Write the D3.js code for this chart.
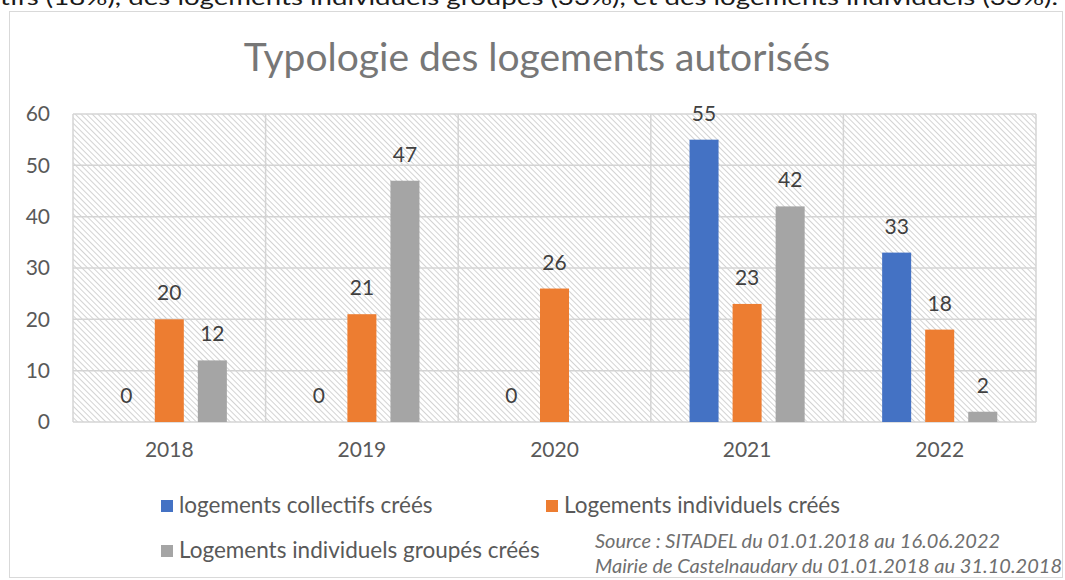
<!DOCTYPE html>
<html>
<head>
<meta charset="utf-8">
<script src="https://cdn.jsdelivr.net/npm/d3@7"></script>
<style>
  body { margin: 0; background: #fff; }
  svg text { font-family: Lato, "Open Sans", sans-serif; }
</style>
</head>
<body>
<div id="chart"></div>
<script>
// data
var years = ["2018", "2019", "2020", "2021", "2022"];
var seriesNames = ["logements collectifs créés", "Logements individuels créés", "Logements individuels groupés créés"];
var collectifs = [0, 0, 0, 55, 33];
var individuels = [20, 21, 26, 23, 18];
var groupes = [12, 47, null, 42, 2];
var yTicks = [0, 10, 20, 30, 40, 50, 60];
var colors = ["#4472C4", "#ED7D31", "#A5A5A5"];

var W = 1065, H = 580;
var plot = { left: 73, right: 1036, top: 114, bottom: 422 };

var svg = d3.select("#chart").append("svg")
    .attr("width", W)
    .attr("height", H);

// hatch pattern of the plot area
var defs = svg.append("defs");
defs.append("pattern")
    .attr("id", "hatch")
    .attr("patternUnits", "userSpaceOnUse")
    .attr("width", 4)
    .attr("height", 4)
    .attr("patternTransform", "rotate(-45)")
  .append("line")
    .attr("x1", 0.5).attr("y1", 0)
    .attr("x2", 0.5).attr("y2", 4)
    .attr("stroke", "#d3d3d3")
    .attr("stroke-width", 1);

// cut-off sentence above the chart (clipped in the original screenshot too)
svg.append("text")
    .attr("x", 0)
    .attr("y", 5)
    .attr("font-size", 22)
    .attr("fill", "#1a1a1a")
    .attr("textLength", 1058)
    .attr("lengthAdjust", "spacingAndGlyphs")
    .text("tifs (18%), des logements individuels groupés (33%), et des logements individuels (33%).");

// chart frame
svg.append("rect")
    .attr("x", 9.5).attr("y", 11.5)
    .attr("width", 1053).attr("height", 566)
    .attr("fill", "#fff")
    .attr("stroke", "#d9d9d9");

// title
svg.append("text")
    .attr("x", 537)
    .attr("y", 71)
    .attr("text-anchor", "middle")
    .attr("font-size", 39)
    .attr("fill", "#777")
    .text("Typologie des logements autorisés");

// scales
var x0 = d3.scaleBand()
    .domain(years)
    .range([plot.left, plot.right]);

var x1 = d3.scaleBand()
    .domain([0, 1, 2])
    .range([0, x0.bandwidth()])
    .paddingInner(0.326)
    .paddingOuter(0.9);

var y = d3.scaleLinear()
    .domain([0, 60])
    .range([plot.bottom, plot.top]);

// plot area background
svg.append("rect")
    .attr("x", plot.left).attr("y", plot.top)
    .attr("width", plot.right - plot.left)
    .attr("height", plot.bottom - plot.top)
    .attr("fill", "url(#hatch)");

// horizontal gridlines
svg.append("g")
    .selectAll("line")
    .data(yTicks)
    .join("line")
      .attr("x1", plot.left).attr("x2", plot.right)
      .attr("y1", function(d) { return y(d); })
      .attr("y2", function(d) { return y(d); })
      .attr("stroke", "#d4d4d4")
      .attr("stroke-width", 1.5);

// vertical category separators
var seps = d3.range(years.length + 1).map(function(i) { return plot.left + i * x0.step(); });
svg.append("g")
    .selectAll("line")
    .data(seps)
    .join("line")
      .attr("x1", function(d) { return d; }).attr("x2", function(d) { return d; })
      .attr("y1", plot.top).attr("y2", plot.bottom)
      .attr("stroke", "#d4d4d4")
      .attr("stroke-width", 1.5);

// y axis
var y_axis = d3.axisLeft(y).tickValues(yTicks).tickSize(0).tickPadding(23);
var gy = svg.append("g")
    .attr("transform", "translate(" + plot.left + ",0)")
    .call(y_axis);
gy.select(".domain").remove();
gy.selectAll("text")
    .attr("font-size", 21)
    .attr("fill", "#595959")
    .attr("font-family", "Lato, sans-serif");

// x axis
var x_axis = d3.axisBottom(x0).tickSize(0).tickPadding(20);
var gx = svg.append("g")
    .attr("transform", "translate(0," + plot.bottom + ")")
    .call(x_axis);
gx.select(".domain").remove();
gx.selectAll("text")
    .attr("font-size", 21)
    .attr("fill", "#595959")
    .attr("font-family", "Lato, sans-serif");

// bars
var series = [collectifs, individuels, groupes];
var rows = [];
series.forEach(function(vals, s) {
    vals.forEach(function(v, i) {
        if (v !== null) rows.push({ year: years[i], s: s, v: v });
    });
});

svg.append("g")
    .selectAll("rect")
    .data(rows.filter(function(d) { return d.v > 0; }))
    .join("rect")
      .attr("x", function(d) { return x0(d.year) + x1(d.s); })
      .attr("y", function(d) { return y(d.v); })
      .attr("width", x1.bandwidth())
      .attr("height", function(d) { return y(0) - y(d.v); })
      .attr("fill", function(d) { return colors[d.s]; });

// value labels
svg.append("g")
    .selectAll("text")
    .data(rows)
    .join("text")
      .attr("x", function(d) { return x0(d.year) + x1(d.s) + x1.bandwidth() / 2; })
      .attr("y", function(d) { return y(d.v) - 19; })
      .attr("text-anchor", "middle")
      .attr("font-size", 21)
      .attr("fill", "#404040")
      .text(function(d) { return d.v; });

// legend
var legendPos = [
    { x: 161, y: 513 },
    { x: 546, y: 513 },
    { x: 161, y: 558 }
];
var lg = svg.append("g")
    .selectAll("g")
    .data(seriesNames)
    .join("g")
      .attr("transform", function(d, i) { return "translate(" + legendPos[i].x + "," + legendPos[i].y + ")"; });

lg.append("rect")
    .attr("x", 0).attr("y", -13)
    .attr("width", 12).attr("height", 12)
    .attr("fill", function(d, i) { return colors[i]; });

lg.append("text")
    .attr("x", 18)
    .attr("y", 0)
    .attr("font-size", 22.5)
    .attr("fill", "#595959")
    .text(function(d) { return d; });

// source note
svg.append("text")
    .attr("x", 595).attr("y", 548)
    .attr("font-size", 20)
    .attr("font-style", "italic")
    .attr("fill", "#6f6f6f")
    .text("Source : SITADEL du 01.01.2018 au 16.06.2022");

svg.append("text")
    .attr("x", 595).attr("y", 573)
    .attr("font-size", 20)
    .attr("font-style", "italic")
    .attr("fill", "#6f6f6f")
    .text("Mairie de Castelnaudary du 01.01.2018 au 31.10.2018");
</script>
</body>
</html>
